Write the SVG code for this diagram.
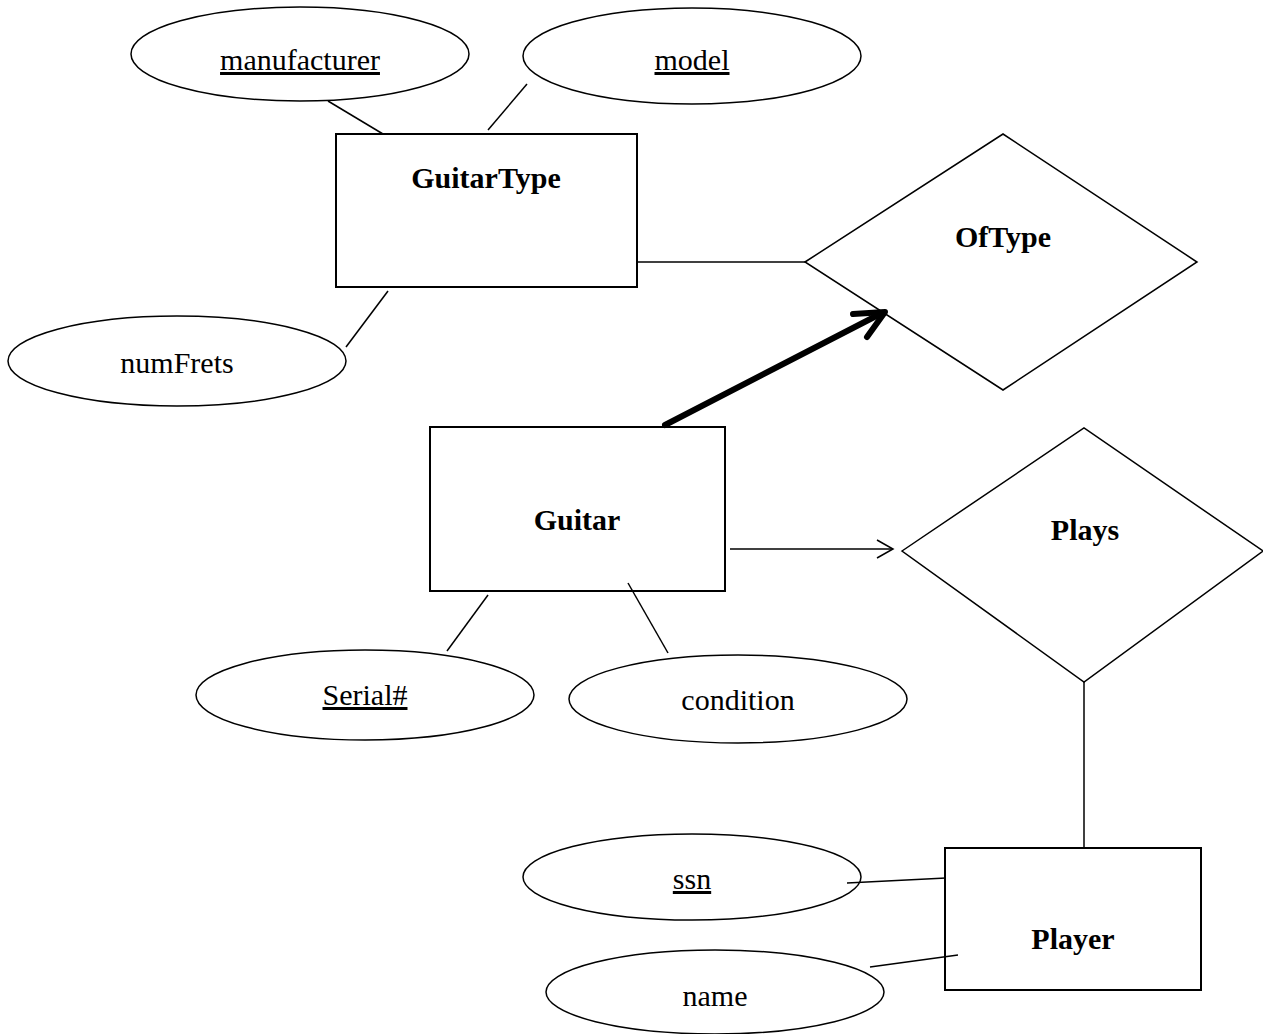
<svg xmlns="http://www.w3.org/2000/svg" width="1263" height="1034" viewBox="0 0 1263 1034">
<style>
.shape{fill:#fff;stroke:#000;stroke-width:1.5}
.ent{fill:#fff;stroke:#000;stroke-width:2}
.ln{fill:none;stroke:#000;stroke-width:1.5}
.t{font-family:"Liberation Serif","Times New Roman",serif;font-size:30px;text-anchor:middle;fill:#000}
.b{font-weight:bold}
.u{text-decoration:underline}
</style>
<rect width="1263" height="1034" fill="#fff"/>
<g id="manufacturer"><ellipse class="shape" cx="300" cy="54" rx="169" ry="47"/><text class="t u" x="300" y="70">manufacturer</text></g>
<g id="model"><ellipse class="shape" cx="692" cy="56" rx="169" ry="48"/><text class="t u" x="692" y="70">model</text></g>
<g id="numFrets"><ellipse class="shape" cx="177" cy="361" rx="169" ry="45"/><text class="t" x="177" y="373">numFrets</text></g>
<g id="GuitarType"><rect class="ent" x="336" y="134" width="301" height="153"/><text class="t b" x="486" y="188">GuitarType</text></g>
<g id="OfType"><polygon class="shape" points="805,262 1003,134 1197,262 1003,390"/><text class="t b" x="1003" y="247">OfType</text></g>
<g id="Guitar"><rect class="ent" x="430" y="427" width="295" height="164"/><text class="t b" x="577" y="530">Guitar</text></g>
<g id="Plays"><polygon class="shape" points="902,551 1084,428 1263,551 1084,682"/><text class="t b" x="1085" y="540">Plays</text></g>
<g id="Serial"><ellipse class="shape" cx="365" cy="695" rx="169" ry="45"/><text class="t u" x="365" y="705">Serial#</text></g>
<g id="condition"><ellipse class="shape" cx="738" cy="699" rx="169" ry="44"/><text class="t" x="738" y="710">condition</text></g>
<g id="ssn"><ellipse class="shape" cx="692" cy="877" rx="169" ry="43"/><text class="t u" x="692" y="889">ssn</text></g>
<g id="name"><ellipse class="shape" cx="715" cy="992" rx="169" ry="42"/><text class="t" x="715" y="1006">name</text></g>
<g id="Player"><rect class="ent" x="945" y="848" width="256" height="142"/><text class="t b" x="1073" y="949">Player</text></g>
<g id="connectors">
<line class="ln" x1="328" y1="101" x2="383" y2="134"/>
<line class="ln" x1="527" y1="84" x2="488" y2="130"/>
<line class="ln" x1="388" y1="291" x2="346" y2="347"/>
<line class="ln" x1="637" y1="262" x2="805" y2="262"/>
<line x1="665" y1="425" x2="882" y2="313" stroke="#000" stroke-width="6" stroke-linecap="round"/>
<path d="M853,314 L885,312 L867,337" fill="none" stroke="#000" stroke-width="6" stroke-linecap="round" stroke-linejoin="round"/>
<line class="ln" x1="730" y1="549" x2="892" y2="549"/>
<path class="ln" d="M877,540 L893,549 L877,558"/>
<line class="ln" x1="488" y1="595" x2="447" y2="651"/>
<line class="ln" x1="628" y1="583" x2="668" y2="653"/>
<line class="ln" x1="1084" y1="682" x2="1084" y2="848"/>
<line class="ln" x1="847" y1="883" x2="946" y2="878"/>
<line class="ln" x1="870" y1="967" x2="958" y2="955"/>
</g>
</svg>
